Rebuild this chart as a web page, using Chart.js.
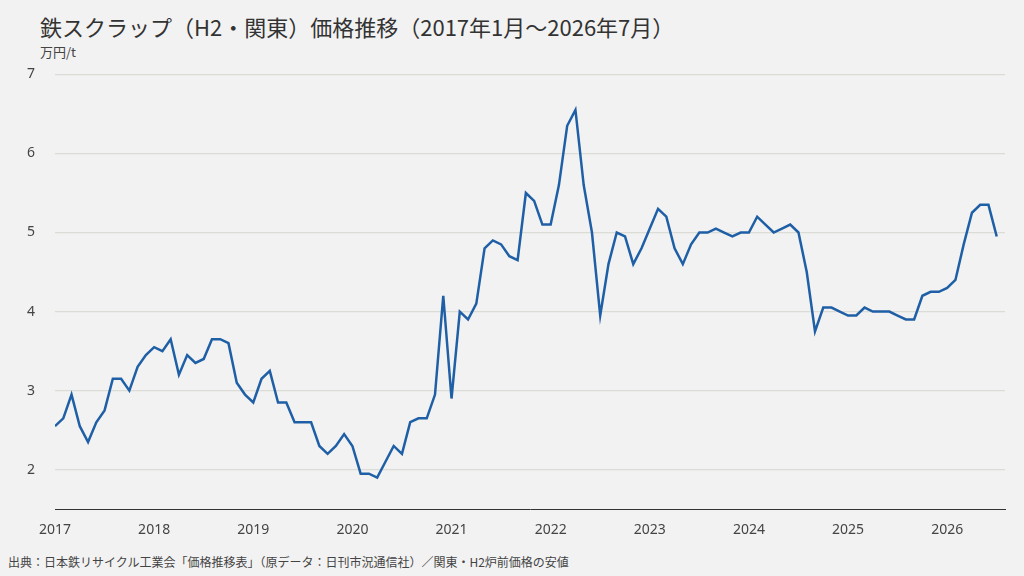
<!DOCTYPE html>
<html><head><meta charset="utf-8">
<script src="https://cdn.jsdelivr.net/npm/chart.js@4"></script>
<style>
body{margin:0;background:#f2f2f2;font-family:"Noto Sans CJK JP","Noto Sans",sans-serif;color:#333}
#wrap{position:relative;width:1024px;height:576px}
#title{position:absolute;left:40px;top:10px;font-size:22px;color:#333}
#unit{position:absolute;left:40px;top:42px;font-size:13px;color:#444}
#src{position:absolute;left:8px;top:553px;font-size:12px;color:#444}
#cv{position:absolute;left:0;top:46px}
</style></head><body>
<div id="wrap">
<div id="title">鉄スクラップ（H2・関東）価格推移（2017年1月〜2026年7月）</div>
<div id="unit">万円/t</div>
<canvas id="cv" width="1024" height="496"></canvas>
<div id="src">出典：日本鉄リサイクル工業会「価格推移表」（原データ：日刊市況通信社）／関東・H2炉前価格の安値</div>
</div>
<script>
// monthly prices, Jan 2017 .. Jul 2026
const years = [2017, 2018, 2019, 2020, 2021, 2022, 2023, 2024, 2025, 2026];
const prices = [
  2.55, 2.65, 2.95, 2.55, 2.35, 2.6, 2.75, 3.15, 3.15, 3.0, 3.3, 3.45,
  3.55, 3.5, 3.65, 3.2, 3.45, 3.35, 3.4, 3.65, 3.65, 3.6, 3.1, 2.95,
  2.85, 3.15, 3.25, 2.85, 2.85, 2.6, 2.6, 2.6, 2.3, 2.2, 2.3, 2.45,
  2.3, 1.95, 1.95, 1.9, 2.1, 2.3, 2.2, 2.6, 2.65, 2.65, 2.95, 4.2,
  2.9, 4.0, 3.9, 4.1, 4.8, 4.9, 4.85, 4.7, 4.65, 5.5, 5.4, 5.1,
  5.1, 5.6, 6.35, 6.55, 5.6, 5.0, 3.95, 4.6, 5.0, 4.95, 4.6, 4.8,
  5.05, 5.3, 5.2, 4.8, 4.6, 4.85, 5.0, 5.0, 5.05, 5.0, 4.95, 5.0,
  5.0, 5.2, 5.1, 5.0, 5.05, 5.1, 5.0, 4.5, 3.75, 4.05, 4.05, 4.0,
  3.95, 3.95, 4.05, 4.0, 4.0, 4.0, 3.95, 3.9, 3.9, 4.2, 4.25, 4.25,
  4.3, 4.4, 4.85, 5.25, 5.35, 5.35, 4.95
];
const yTicks = [2, 3, 4, 5, 6, 7];

new Chart(document.getElementById('cv'), {
  type: 'line',
  data: {
    datasets: [{
      data: prices.map((v, i) => ({ x: i, y: v })),
      borderColor: '#1f5fa6',
      borderWidth: 2.5,
      pointRadius: 0,
      tension: 0
    }]
  },
  options: {
    responsive: false,
    animation: false,
    layout: { padding: { left: 7, right: 19, top: 14, bottom: 0 } },
    plugins: { legend: { display: false }, tooltip: { enabled: false } },
    scales: {
      x: {
        type: 'linear', min: 0, max: 115,
        afterBuildTicks: s => { s.ticks = years.map((y, i) => ({ value: i * 12 })); },
        ticks: { callback: v => years[v / 12], color: '#444', font: { size: 14, family: 'Noto Sans' }, maxRotation: 0, padding: 4 },
        grid: { display: false },
        border: { color: '#333' }
      },
      y: {
        min: 1.5, max: 7,
        afterBuildTicks: s => { s.ticks = yTicks.map(v => ({ value: v })); },
        ticks: { color: '#444', font: { size: 14, family: 'Noto Sans' }, padding: 20 },
        grid: { color: '#dcdcd6', lineWidth: 1.2, drawTicks: false },
        border: { display: false }
      }
    }
  }
});
</script>
</body></html>
